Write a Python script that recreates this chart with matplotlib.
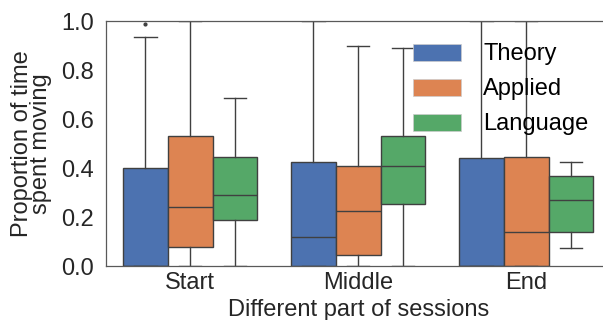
import matplotlib
matplotlib.use("Agg")
import matplotlib.pyplot as plt
from matplotlib.patches import Patch

plt.rcParams["font.family"] = ["Liberation Sans", "DejaVu Sans"]

sessions = ["Start", "Middle", "End"]
groups = ["Theory", "Applied", "Language"]
colors = ["#4C72B0", "#DD8452", "#55A868"]

# per group: values for Start, Middle, End
q1 = {"Theory": [0.0, 0.0, 0.0], "Applied": [0.08, 0.045, 0.0], "Language": [0.19, 0.255, 0.14]}
med = {"Theory": [0.0, 0.12, 0.0], "Applied": [0.24, 0.225, 0.14], "Language": [0.29, 0.41, 0.27]}
q3 = {"Theory": [0.40, 0.425, 0.44], "Applied": [0.53, 0.41, 0.445], "Language": [0.445, 0.53, 0.37]}
whislo = {"Theory": [0.0, 0.0, 0.0], "Applied": [0.0, 0.0, 0.0], "Language": [0.0, 0.0, 0.075]}
whishi = {"Theory": [0.935, 1.0, 1.0], "Applied": [1.0, 0.90, 1.0], "Language": [0.685, 0.89, 0.425]}
fliers = {"Theory": [[0.99], [], []], "Applied": [[], [], []], "Language": [[], [], []]}

fig = plt.figure(figsize=(6.03, 3.2), dpi=100)
ax = fig.add_axes([0.176, 0.168, 0.836, 0.766])

w = 0.8 / 3
for j, g in enumerate(groups):
    stats = []
    for i in range(len(sessions)):
        stats.append(dict(q1=q1[g][i], med=med[g][i], q3=q3[g][i],
                          whislo=whislo[g][i], whishi=whishi[g][i], fliers=fliers[g][i]))
    pos = [i - 0.8 / 2 + w * (j + 0.5) for i in range(len(sessions))]
    ax.bxp(stats, positions=pos, widths=w, patch_artist=True, manage_ticks=False,
           boxprops=dict(facecolor=colors[j], edgecolor="0.25", linewidth=1.0),
           medianprops=dict(color="0.25", linewidth=1.0),
           whiskerprops=dict(color="0.25", linewidth=1.0),
           capprops=dict(color="0.25", linewidth=1.0),
           flierprops=dict(marker="o", markersize=2, markerfacecolor="0.25",
                           markeredgecolor="0.25"))

ax.set_xlim(-0.5, 2.5)
ax.set_ylim(0, 1.0)
ax.set_xticks(range(len(sessions)))
ax.set_xticklabels(sessions)
ax.set_yticks([0, 0.2, 0.4, 0.6, 0.8, 1.0])
ax.tick_params(axis="both", length=0, labelsize=17, colors="#262626")
ax.tick_params(axis="y", pad=9)
ax.tick_params(axis="x", pad=4)
for s in ax.spines.values():
    s.set_color("0.35")
    s.set_linewidth(0.9)
ax.spines["right"].set_visible(False)

ax.set_xlabel("Different part of sessions", fontsize=17, color="#262626", labelpad=4)
ax.set_ylabel("Proportion of time\nspent moving", fontsize=17, color="#262626",
              labelpad=6, linespacing=0.85)

handles = [Patch(facecolor=c, edgecolor="0.8", linewidth=0.5) for c in colors]
ax.legend(handles, groups, loc="upper left", bbox_to_anchor=(0.609, 0.909), frameon=False,
          fontsize=17, handlelength=2.03, handleheight=0.72, labelspacing=0.55,
          handletextpad=0.93, borderaxespad=0, borderpad=0)

fig.savefig("out.png", dpi=100)
